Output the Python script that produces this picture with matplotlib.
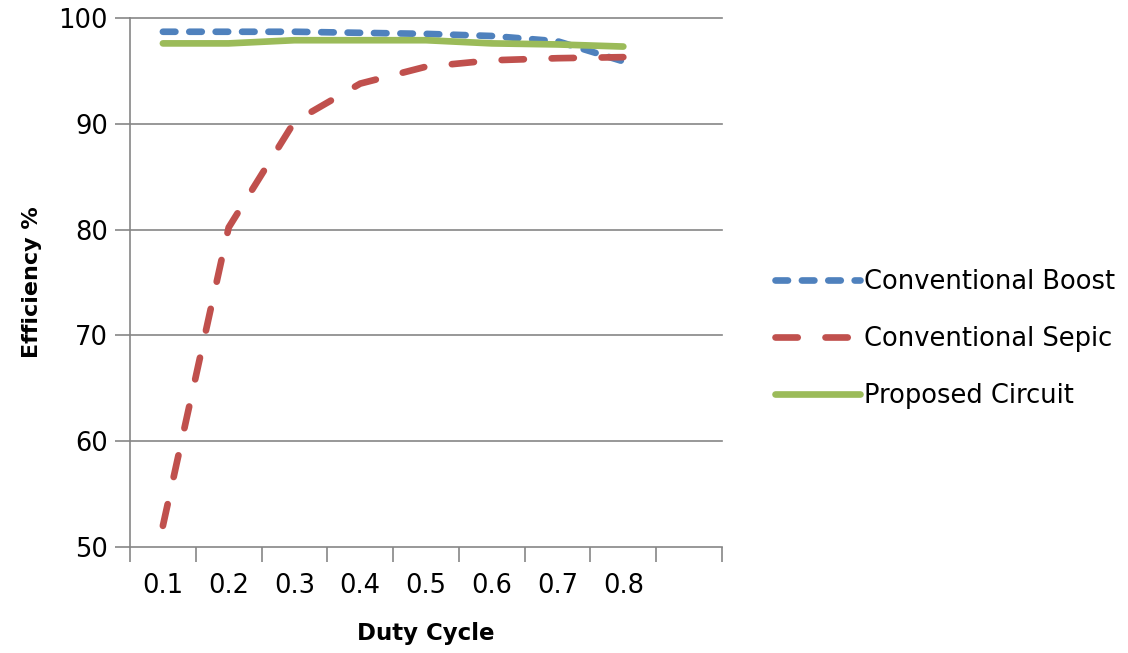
import numpy as np
import matplotlib
matplotlib.use('Agg')
import matplotlib.pyplot as plt

plt.rcParams.update({
    'font.family': ['DejaVu Sans'],
    'font.size': 18.5,
    'lines.scale_dashes': False,
})

duty = ['0.1', '0.2', '0.3', '0.4', '0.5', '0.6', '0.7', '0.8']
boost = [98.7, 98.7, 98.7, 98.6, 98.5, 98.3, 97.8, 95.9]
sepic = [52.0, 80.2, 90.2, 93.8, 95.4, 96.0, 96.2, 96.3]
proposed = [97.6, 97.6, 97.9, 97.9, 97.9, 97.6, 97.5, 97.3]

GRID = '#868686'
x = np.arange(len(duty))

fig = plt.figure(figsize=(11.28, 6.53), dpi=100)
ax = fig.add_axes([130/1128, 1-547/653, (722-130)/1128, (547-18)/653])

ax.plot(x, boost, color='#4F81BD', lw=4.8, dashes=(9, 10), dash_capstyle='round',
        label='Conventional Boost')
ax.plot(x, sepic, color='#C0504D', lw=4.8, dashes=(16, 20), dash_capstyle='round',
        label='Conventional Sepic')
ax.plot(x, proposed, color='#9BBB59', lw=4.8, solid_capstyle='round',
        label='Proposed Circuit')

ax.set_ylim(50, 100)
ax.set_xlim(-0.5, len(duty) + 0.5)
ax.set_yticks(range(50, 101, 10))
for yv in range(60, 101, 10):
    ax.axhline(yv, color=GRID, lw=1.2, zorder=0, clip_on=False)

# category boundaries as ticks, labels centred on the categories
ax.set_xticks(np.arange(-0.5, len(duty) + 1, 1))
ax.set_xticklabels([])
ax.set_xticks(x, minor=True)
ax.set_xticklabels(duty, minor=True)
ax.tick_params(axis='x', which='major', length=11, width=1.2, color=GRID, direction='out')
ax.tick_params(axis='x', which='minor', length=0, pad=19)
ax.tick_params(axis='y', length=11, width=1.2, color=GRID, direction='out', pad=5)

for s in ['top', 'right']:
    ax.spines[s].set_visible(False)
for s in ['left', 'bottom']:
    ax.spines[s].set_color(GRID)
    ax.spines[s].set_linewidth(1.2)

ax.set_xlabel('Duty Cycle', fontweight='bold', labelpad=16, fontsize=16.5)
ax.set_ylabel('Efficiency %', fontweight='bold', labelpad=12, fontsize=16)

ax.legend(loc='center left', bbox_to_anchor=(765/1128, 1-339/653), bbox_transform=fig.transFigure,
          frameon=False, handlelength=3.3, handletextpad=0.15, labelspacing=1.2, borderaxespad=0)

fig.savefig('out.png', dpi=100)
